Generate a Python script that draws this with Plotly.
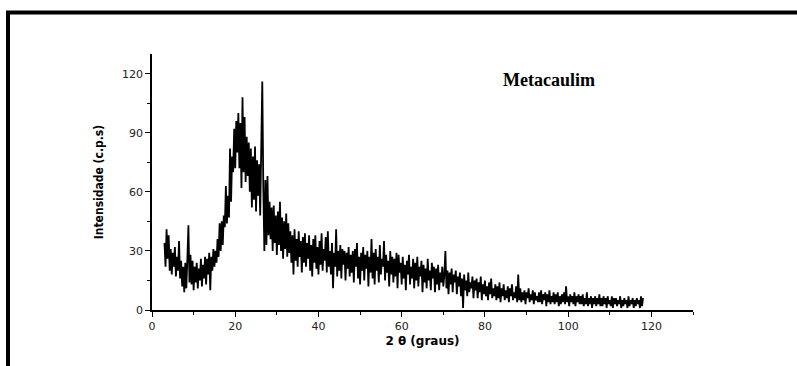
import plotly.graph_objects as go

# 2-theta grid: start and step of the diffractogram (degrees)
theta_start = 3.0
theta_step = 0.25

# Intensity (c.p.s), 20 values per row (5 degrees per row)
intensity = [
    34, 22, 41, 26, 38, 20, 31, 18, 29, 22, 32, 17, 27, 20, 35, 16, 25, 12, 22, 9,          # 3.0-7.75
    24, 11, 26, 43, 14, 28, 13, 25, 10, 22, 14, 24, 11, 21, 15, 26, 12, 23, 16, 27,         # 8.0-12.75
    13, 26, 18, 29, 10, 27, 20, 31, 22, 30, 24, 36, 27, 44, 30, 45, 33, 48, 42, 63,         # 13.0-17.75
    44, 58, 47, 82, 55, 78, 70, 92, 72, 96, 80, 100, 72, 95, 62, 108, 70, 98, 65, 88,       # 18.0-22.75
    68, 85, 60, 82, 52, 78, 56, 83, 50, 76, 58, 74, 48, 73, 116, 62, 30, 66, 33, 68,        # 23.0-27.75
    38, 55, 36, 52, 30, 53, 34, 48, 28, 50, 33, 55, 30, 47, 26, 45, 31, 49, 27, 44,         # 28.0-32.75
    29, 40, 24, 38, 18, 41, 25, 36, 22, 40, 27, 35, 19, 37, 24, 39, 22, 34, 26, 38,         # 33.0-37.75
    20, 33, 17, 36, 24, 38, 21, 32, 18, 35, 23, 39, 20, 31, 25, 37, 19, 40, 22, 30,         # 38.0-42.75
    18, 34, 11, 29, 22, 41, 17, 30, 20, 33, 16, 31, 23, 30, 15, 29, 21, 32, 17, 28,         # 43.0-47.75
    19, 30, 14, 31, 22, 34, 16, 27, 13, 29, 20, 32, 15, 28, 21, 30, 12, 27, 19, 36,         # 48.0-52.75
    16, 29, 13, 31, 20, 27, 14, 33, 18, 26, 22, 35, 15, 28, 19, 25, 12, 30, 18, 27,         # 53.0-57.75
    14, 26, 17, 29, 11, 28, 19, 24, 13, 27, 16, 23, 10, 25, 18, 28, 13, 22, 16, 26,         # 58.0-62.75
    11, 24, 15, 27, 12, 22, 17, 25, 9, 23, 14, 21, 11, 26, 15, 20, 10, 24, 16, 22,          # 63.0-67.75
    9, 21, 13, 23, 10, 19, 14, 22, 12, 18, 30, 11, 20, 8, 19, 13, 21, 9, 18, 14,            # 68.0-72.75
    20, 8, 17, 12, 19, 7, 16, 1, 18, 10, 15, 7, 19, 9, 14, 11, 17, 6, 15, 10,               # 73.0-77.75
    16, 6, 14, 9, 17, 5, 13, 8, 15, 7, 12, 5, 14, 8, 16, 6, 11, 7, 13, 5,                   # 78.0-82.75
    12, 6, 14, 4, 11, 7, 13, 5, 10, 6, 12, 4, 11, 7, 13, 5, 9, 6, 12, 4,                    # 83.0-87.75
    18, 5, 11, 4, 9, 5, 10, 3, 9, 6, 11, 4, 8, 5, 10, 3, 9, 5, 7, 4,                        # 88.0-92.75
    9, 4, 10, 3, 8, 5, 9, 2, 8, 4, 10, 3, 7, 4, 9, 3, 8, 4, 9, 2,                           # 93.0-97.75
    7, 3, 8, 4, 9, 3, 12, 4, 7, 2, 8, 4, 7, 3, 9, 2, 7, 4, 8, 3,                            # 98.0-102.75
    7, 3, 8, 2, 6, 3, 9, 2, 6, 3, 7, 1, 6, 3, 7, 2, 6, 3, 8, 2,                             # 103.0-107.75
    6, 2, 7, 3, 6, 1, 7, 3, 5, 2, 7, 1, 6, 3, 6, 2, 5, 3, 7, 1,                             # 108.0-112.75
    5, 2, 6, 3, 5, 1, 7, 2, 5, 3, 6, 1, 5, 2, 6, 3, 5, 1, 7, 2,                             # 113.0-117.75
    6,                                                                                        # 118.0
]
two_theta = [theta_start + theta_step * i for i in range(len(intensity))]

x_ticks = [0, 20, 40, 60, 80, 100, 120]
y_ticks = [0, 30, 60, 90, 120]

fig = go.Figure()
fig.add_trace(go.Scatter(
    x=two_theta, y=intensity, mode="lines",
    line=dict(color="black", width=1.8),
    hoverinfo="skip", showlegend=False,
))

# plot area: x 152..693 px, y 54..310 px
L, R, T, B = 152, 693, 54, 310
W, H = 797, 366
pw, ph = R - L, B - T

def px(xp):
    return (xp - L) / pw

def py(yp):
    return (B - yp) / ph

axis_common = dict(
    showgrid=False, zeroline=False, showline=True, linecolor="black", linewidth=1.5,
    ticks="outside", ticklen=5, tickwidth=1.2, tickcolor="black",
    tickfont=dict(family="DejaVu Sans", size=11, color="#222"),
)

fig.update_layout(
    width=W, height=H,
    margin=dict(l=L, r=W - R, t=T, b=H - B),
    paper_bgcolor="white", plot_bgcolor="white",
    xaxis=dict(
        range=[0, 130], tickvals=x_ticks,
        minor=dict(dtick=10, tick0=0, ticks="outside", ticklen=3, tickcolor="black", tickwidth=1),
        title=dict(text="<b>2 θ (graus)</b>", font=dict(family="DejaVu Sans", size=12, color="black"), standoff=5),
        **axis_common,
    ),
    yaxis=dict(
        range=[0, 130], tickvals=y_ticks,
        minor=dict(dtick=15, tick0=0, ticks="outside", ticklen=3, tickcolor="black", tickwidth=1),
        title=dict(text="<b>Intensidade (c.p.s)</b>", font=dict(family="DejaVu Sans Condensed", size=12, color="black"), standoff=16),
        **axis_common,
    ),
    annotations=[
        dict(text="<b>Metacaulim</b>", x=95.5, y=117, xref="x", yref="y", showarrow=False,
             font=dict(family="Liberation Serif", size=18, color="black")),
    ],
    shapes=[
        dict(type="path", xref="paper", yref="paper",
             path=f"M {px(8)} {py(400)} L {px(8)} {py(12.5)} L {px(820)} {py(12.5)}",
             line=dict(color="black", width=4)),
    ],
)

fig.write_html("out.html")
